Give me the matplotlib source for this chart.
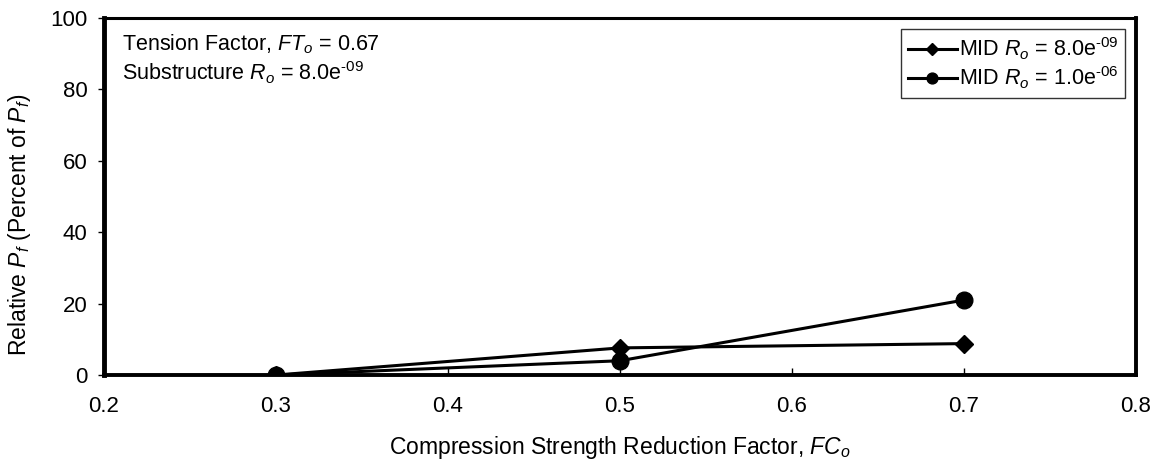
import matplotlib.pyplot as plt

plt.rcParams['font.family'] = ['Liberation Sans', 'DejaVu Sans']
plt.rcParams['mathtext.fontset'] = 'custom'
plt.rcParams['mathtext.rm'] = 'Liberation Sans'
plt.rcParams['mathtext.it'] = 'Liberation Sans:italic'

# Dane
fc = [0.3, 0.5, 0.7]
mid_8e9 = [0.0, 7.6, 8.8]
mid_1e6 = [0.0, 4.0, 21.0]

HY = '\u2010'  # myślnik zamiast minusa w wykładniku

fig = plt.figure(figsize=(11.58, 4.65), dpi=100)
ax = fig.add_axes([0.0898, 0.1935, 0.8912, 0.7677])

ax.plot(fc, mid_8e9, color='black', lw=2.2, marker='D', ms=9,
        label=r'MID $R_o$ = 8.0e$^{' + HY + '09}$')
ax.plot(fc, mid_1e6, color='black', lw=2.2, marker='o', ms=12,
        label=r'MID $R_o$ = 1.0e$^{' + HY + '06}$')

ax.set_xlim(0.2, 0.8)
ax.set_ylim(0, 100)
ax.set_xticks([0.2, 0.3, 0.4, 0.5, 0.6, 0.7, 0.8])
ax.set_yticks([0, 20, 40, 60, 80, 100])
ax.tick_params(labelsize=16, length=4, width=1, direction='out')
ax.tick_params(axis='y', pad=8)
ax.tick_params(axis='x', direction='in', length=5, pad=15)

for side, w in [('left', 3.5), ('bottom', 2.8), ('right', 2.8), ('top', 2.2)]:
    ax.spines[side].set_linewidth(w)

ax.set_xlabel(r'Compression Strength Reduction Factor, $FC_o$', fontsize=16.5, labelpad=12)
ax.set_ylabel(r'Relative $P_f$ (Percent of $P_f$)', fontsize=16.5)
ax.yaxis.set_label_coords(-0.069, 0.42)

ax.text(0.017, 0.96,
        'Tension Factor, $FT_o$ = 0.67\nSubstructure $R_o$ = 8.0e$^{' + HY + '09}$',
        transform=ax.transAxes, fontsize=15.5, va='top', ha='left', linespacing=1.15)

leg = ax.legend(loc='upper right', fontsize=15.5, frameon=True, fancybox=False,
                edgecolor='black', handlelength=2.3, handletextpad=0.1,
                borderaxespad=0.5, labelspacing=0.15, borderpad=0.3,
                markerscale=0.65)
leg.get_frame().set_linewidth(1.0)

plt.savefig('out.png', dpi=100)
